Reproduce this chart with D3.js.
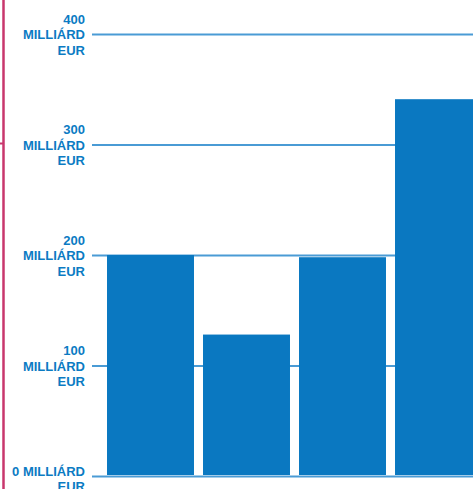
<!DOCTYPE html>
<html>
<head>
<meta charset="utf-8">
<script src="https://cdn.jsdelivr.net/npm/d3@7"></script>
<style>
  html, body { margin: 0; padding: 0; background: #fff; overflow: hidden; }
  svg { display: block; }
  .axis text { font-family: "Liberation Sans", Arial, sans-serif; font-weight: bold; font-size: 13px; fill: #0b7bc3; }
</style>
</head>
<body>
<div class="chart"></div>
<script>
// values (billion EUR)
const categories = ["1", "2", "3", "4"]
const values = [200, 128, 198, 341]
const tickValues = [0, 100, 200, 300, 400]
const unitLabel = "MILLIÁRD EUR"

const W = 473, H = 489
const margin = {top: 34, left: 92, bottom: 13}

const svg = d3.select(".chart")
  .append("svg")
    .attr("width", W)
    .attr("height", H)

// pink rule on the far left
svg.append("line")
  .attr("x1", 3.5).attr("x2", 3.5)
  .attr("y1", 0).attr("y2", H)
  .attr("stroke", "#c8376d")
  .attr("stroke-width", 2.5)
svg.append("line")
  .attr("x1", 0).attr("x2", 3)
  .attr("y1", 143.5).attr("y2", 143.5)
  .attr("stroke", "#c8376d")
  .attr("stroke-width", 2)

let y = d3.scaleLinear()
  .domain([0, 400])
  .range([H - margin.bottom, margin.top])

// band runs a little past the right edge, so the last bar is clipped
let x = d3.scaleBand()
  .domain(categories)
  .range([102.5, 486.5])
  .paddingInner(0.094)
  .paddingOuter(0.047)

let yAxis = d3.axisLeft(y)
  .tickValues(tickValues)
  .tickSize(-(W - margin.left + 5))
  .tickPadding(7)
  .tickFormat((d) => d + " " + unitLabel)

let g = svg.append("g")
  .attr("class", "axis")
  .attr("transform", "translate(" + margin.left + ",0)")
  .call(yAxis)

g.select(".domain").remove()
g.selectAll(".tick line")
  .attr("stroke", "#4a9bd5")
  .attr("stroke-width", 2)

// wrap the labels to a narrow column, centred on the gridline
function wrap (text, width) {
  const lh = 15.5
  text.each(function () {
    let t = d3.select(this)
    let words = t.text().split(/\s+/)
    let lines = [], line = []
    t.text(null)
    let probe = t.append("tspan")
    words.forEach((w) => {
      line.push(w)
      probe.text(line.join(" "))
      if (probe.node().getComputedTextLength() > width && line.length > 1) {
        line.pop()
        lines.push(line.join(" "))
        line = [w]
      }
    })
    lines.push(line.join(" "))
    probe.remove()
    t.attr("dy", null)
    let off = lines.length === 2 ? -1 : 4.5 - lh
    lines.forEach((l, i) => {
      t.append("tspan")
        .attr("x", t.attr("x"))
        .attr("y", off + i * lh)
        .text(l)
    })
  })
}

g.selectAll(".tick text").call(wrap, 76)

svg.selectAll("rect.bar")
  .data(values)
  .enter()
  .append("rect")
    .attr("class", "bar")
    .attr("x", (d, i) => x(categories[i]))
    .attr("width", x.bandwidth())
    .attr("y", (d) => y(d))
    .attr("height", (d) => y(0) - 1 - y(d))
    .attr("fill", "#0a78c1")
</script>
</body>
</html>
